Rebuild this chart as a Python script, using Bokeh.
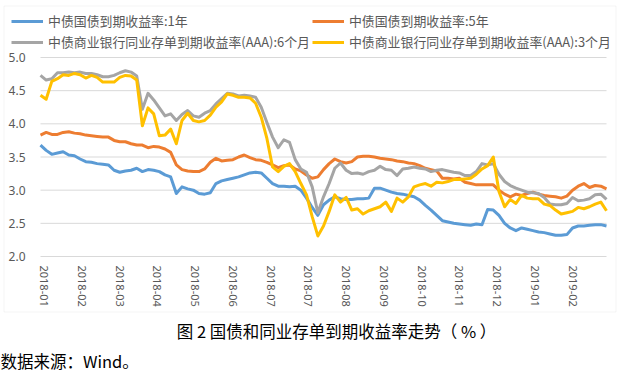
import numpy as np
from bokeh.plotting import figure
from bokeh.models import (Range1d, FixedTicker, PrintfTickFormatter, Legend, LegendItem,
                          Label, BoxAnnotation)
from bokeh.embed import file_html
from bokeh.resources import INLINE

# trading-day index of each sample (every 3 trading days)
days = list(range(0, 301, 3))

x_labels = ["2018-01", "2018-02", "2018-03", "2018-04", "2018-05", "2018-06", "2018-07",
            "2018-07", "2018-08", "2018-09", "2018-10", "2018-11", "2018-12", "2019-01", "2019-02"]
label_days = [2 + 20 * k for k in range(len(x_labels))]

y_ticks = [2.0, 2.5, 3.0, 3.5, 4.0, 4.5, 5.0]

series_names = ["中债国债到期收益率:1年", "中债国债到期收益率:5年",
                "中债商业银行同业存单到期收益率(AAA):6个月", "中债商业银行同业存单到期收益率(AAA):3个月"]
colors = ["#5B9BD5", "#ED7D31", "#A5A5A5", "#FFC000"]

gov_1y = [3.68, 3.60, 3.54, 3.56, 3.58, 3.53, 3.52, 3.47, 3.43, 3.42,
          3.40, 3.39, 3.38, 3.30, 3.27, 3.29, 3.30, 3.33, 3.28, 3.31,
          3.30, 3.28, 3.23, 3.20, 2.95, 3.05, 3.02, 3.00, 2.95, 2.94,
          2.96, 3.10, 3.14, 3.16, 3.18, 3.20, 3.23, 3.26, 3.27, 3.26,
          3.18, 3.10, 3.06, 3.06, 3.05, 3.06, 3.00, 2.88, 2.74, 2.62,
          2.78, 2.85, 2.90, 2.87, 2.86, 2.86, 2.87, 2.87, 2.88, 3.03,
          3.03, 3.00, 2.97, 2.95, 2.94, 2.92, 2.90, 2.85, 2.77, 2.70,
          2.62, 2.54, 2.52, 2.50, 2.49, 2.48, 2.47, 2.49, 2.48, 2.71,
          2.70, 2.62, 2.50, 2.43, 2.39, 2.43, 2.41, 2.39, 2.37, 2.36,
          2.34, 2.32, 2.32, 2.33, 2.43, 2.46, 2.46, 2.47, 2.48, 2.48, 2.46]

gov_5y = [3.83, 3.87, 3.84, 3.84, 3.87, 3.88, 3.86, 3.85, 3.83, 3.82,
          3.81, 3.80, 3.80, 3.75, 3.73, 3.73, 3.70, 3.68, 3.68, 3.64,
          3.66, 3.65, 3.62, 3.57, 3.38, 3.31, 3.29, 3.28, 3.28, 3.32,
          3.42, 3.48, 3.44, 3.45, 3.46, 3.50, 3.53, 3.49, 3.46, 3.45,
          3.42, 3.38, 3.34, 3.37, 3.38, 3.32, 3.29, 3.23, 3.18, 3.20,
          3.31, 3.40, 3.47, 3.43, 3.41, 3.43, 3.50, 3.51, 3.51, 3.50,
          3.48, 3.47, 3.46, 3.44, 3.43, 3.41, 3.40, 3.37, 3.33, 3.31,
          3.29, 3.18, 3.18, 3.17, 3.18, 3.12, 3.10, 3.08, 3.08, 3.08,
          3.08, 3.00, 2.94, 2.90, 2.94, 2.92, 2.95, 2.97, 2.94, 2.92,
          2.91, 2.90, 2.88, 2.91, 3.00, 3.06, 3.10, 3.04, 3.07, 3.06, 3.02]

ncd_6m = [4.73, 4.66, 4.68, 4.77, 4.77, 4.78, 4.77, 4.78, 4.76, 4.76,
          4.74, 4.71, 4.71, 4.73, 4.77, 4.80, 4.78, 4.72, 4.22, 4.46,
          4.36, 4.24, 4.12, 4.15, 4.05, 4.14, 4.20, 4.12, 4.10, 4.16,
          4.20, 4.30, 4.38, 4.46, 4.45, 4.42, 4.43, 4.42, 4.40, 4.25,
          4.02, 3.80, 3.64, 3.76, 3.72, 3.46, 3.32, 3.27, 3.05, 2.66,
          2.90, 3.10, 3.33, 3.41, 3.30, 3.25, 3.26, 3.24, 3.28, 3.30,
          3.36, 3.31, 3.30, 3.22, 3.32, 3.33, 3.35, 3.33, 3.32, 3.28,
          3.30, 3.31, 3.29, 3.27, 3.26, 3.22, 3.22, 3.28, 3.40, 3.38,
          3.40, 3.24, 3.13, 3.07, 3.03, 3.00, 2.97, 2.96, 2.95, 2.89,
          2.79, 2.78, 2.78, 2.80, 2.89, 2.84, 2.85, 2.87, 2.93, 2.94, 2.86]

ncd_3m = [4.43, 4.37, 4.64, 4.68, 4.74, 4.73, 4.76, 4.74, 4.69, 4.73,
          4.70, 4.63, 4.63, 4.63, 4.70, 4.73, 4.72, 4.66, 3.97, 4.24,
          4.15, 3.82, 3.83, 3.92, 3.70, 4.05, 4.16, 4.05, 4.03, 4.05,
          4.13, 4.25, 4.33, 4.45, 4.43, 4.40, 4.40, 4.39, 4.31, 4.10,
          3.78, 3.35, 3.28, 3.36, 3.40, 3.28, 3.10, 2.93, 2.60, 2.31,
          2.46, 2.68, 2.93, 2.82, 2.89, 2.70, 2.72, 2.64, 2.69, 2.72,
          2.75, 2.82, 2.68, 2.88, 2.82, 2.90, 3.05, 3.08, 3.10, 3.06,
          3.12, 3.11, 3.13, 3.16, 3.16, 3.17, 3.18, 3.24, 3.32, 3.37,
          3.50, 2.98, 2.75, 2.86, 2.80, 2.92, 2.88, 2.87, 2.87, 2.79,
          2.77, 2.70, 2.64, 2.66, 2.68, 2.74, 2.72, 2.75, 2.79, 2.82, 2.69]

caption = "图 2 国债和同业存单到期收益率走势（ % ）"
source_note = "数据来源：Wind。"

CJK = "Noto Sans CJK SC"
LATIN = "Noto Sans"

# ---- layout (pixels inside the 619x373 canvas) ----
W, H = 619, 373
PX_PER_DAY = 566 / 300          # plot area 566 px wide for 300 trading days
PX_PER_UNIT = 199 / 3           # 199 px for 3 percentage points
X0_PX = 40                      # canvas x of the first trading day
Y5_PX = 57                      # canvas y (from top) of the 5.0 line

x_start = -X0_PX / PX_PER_DAY
x_end = x_start + W / PX_PER_DAY
y_end = y_ticks[-1] + Y5_PX / PX_PER_UNIT
y_start = y_end - H / PX_PER_UNIT


def dx(px):
    return x_start + px / PX_PER_DAY


def dy(py):
    return y_end - py / PX_PER_UNIT


p = figure(width=W, height=H, output_backend="svg", toolbar_location=None,
           x_range=Range1d(x_start, x_end), y_range=Range1d(y_start, y_end),
           min_border=0, min_border_left=0, min_border_right=0,
           min_border_top=0, min_border_bottom=0)
p.outline_line_color = None
p.title.visible = False

# horizontal grid lines across the data span
p.xgrid.visible = False
p.ygrid.visible = False
p.segment(x0=[days[0]] * len(y_ticks), x1=[days[-1]] * len(y_ticks), y0=y_ticks, y1=y_ticks,
          line_color="#D9D9D9", line_width=1)

renderers = []
for vals, col in zip([gov_1y, gov_5y, ncd_6m, ncd_3m], colors):
    r = p.line(days, vals, line_color=col, line_width=3, line_join="round")
    renderers.append(r)

# axes drawn at fixed locations inside the canvas
p.yaxis.fixed_location = days[0]
p.yaxis.ticker = FixedTicker(ticks=y_ticks)
p.yaxis.formatter = PrintfTickFormatter(format="%.1f")
p.yaxis.axis_line_color = None
p.yaxis.major_tick_line_color = None
p.yaxis.minor_tick_line_color = None
p.yaxis.major_tick_out = 0
p.yaxis.major_tick_in = 0
p.yaxis.major_label_standoff = 15
p.yaxis.major_label_text_font = LATIN
p.yaxis.major_label_text_font_size = "12px"
p.yaxis.major_label_text_color = "#595959"

p.xaxis.fixed_location = y_ticks[0]
p.xaxis.ticker = FixedTicker(ticks=label_days)
p.xaxis.major_label_overrides = {d: s for d, s in zip(label_days, x_labels)}
p.xaxis.major_label_orientation = "vertical"
p.xaxis.axis_line_color = None
p.xaxis.major_tick_line_color = None
p.xaxis.minor_tick_line_color = None
p.xaxis.major_tick_out = 0
p.xaxis.major_tick_in = 0
p.xaxis.major_label_standoff = 9
p.xaxis.major_label_text_font = LATIN
p.xaxis.major_label_text_font_size = "11px"
p.xaxis.major_label_text_color = "#595959"

legend = Legend(items=[LegendItem(label=series_names[i], renderers=[renderers[i]]) for i in [0, 2, 1, 3]],
                ncols=2, location=(11, H - 51),
                glyph_width=32, glyph_height=16, label_height=16, label_standoff=5,
                spacing=2, padding=0, margin=0,
                border_line_color=None, background_fill_alpha=0,
                label_text_font=CJK, label_text_font_size="12.9px", label_text_color="#595959")
p.add_layout(legend)

box = BoxAnnotation(left=dx(3.5), right=dx(615.5), top=dy(5.5), bottom=dy(311.5),
                    fill_alpha=0, line_color="#D9D9D9", line_width=1)
p.add_layout(box)

p.add_layout(Label(x=dx(336), y=dy(330), text=caption,
                   text_align="center", text_baseline="middle", text_font=CJK,
                   text_font_size="16.5px", text_color="#000000"))
p.add_layout(Label(x=dx(0), y=dy(360), text=source_note,
                   text_align="left", text_baseline="middle", text_font=CJK,
                   text_font_size="16.5px", text_color="#000000"))

open("out.html", "w").write(file_html(p, INLINE))
